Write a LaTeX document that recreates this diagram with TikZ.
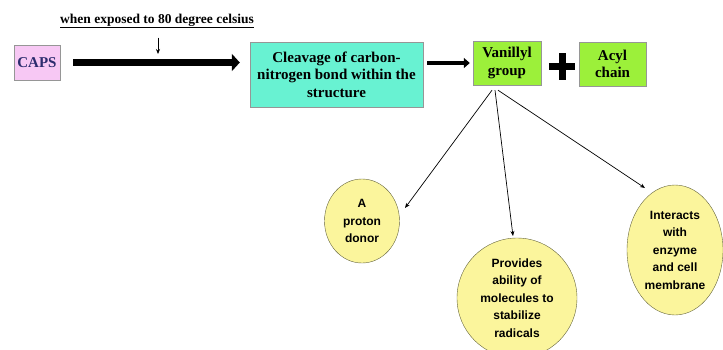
\documentclass[tikz,border=0pt]{standalone}
\usepackage{fontspec}
\setmainfont{Liberation Serif}
\newfontfamily\circfont{Liberation Sans}
\usepackage{tikz}
\usetikzlibrary{arrows.meta,positioning,calc,shapes.geometric}
\usepackage{xcolor}
\definecolor{capsfill}{RGB}{247,200,244}
\definecolor{capstext}{RGB}{44,44,110}
\definecolor{cleavefill}{RGB}{104,242,210}
\definecolor{groupfill}{RGB}{156,240,58}
\definecolor{effectfill}{RGB}{251,245,156}
\definecolor{boxline}{RGB}{150,150,150}
\definecolor{effectline}{RGB}{100,100,60}
\tikzset{
  stagebox/.style={draw=boxline, fill=#1, align=center, font=\fontsize{15}{17.5}\selectfont\bfseries, inner sep=3pt},
  effect/.style={ellipse, draw=effectline, fill=effectfill, align=center, inner sep=0pt, font=\circfont\fontsize{12}{17.5}\selectfont\bfseries},
  bigflow/.style={-{Triangle[length=8pt,width=17pt]}, line width=7pt},
  midflow/.style={-{Triangle[length=6pt,width=10pt]}, line width=4.5pt},
  thinflow/.style={-{Stealth[length=5pt,width=4pt]}, line width=0.7pt},
}
\begin{document}
\begin{tikzpicture}[x=1pt,y=1pt]
  \useasboundingbox (0,0) rectangle (723,-349);
  \clip (0,0) rectangle (723,-349);
  % stages
  \node[stagebox=capsfill, text=capstext, minimum width=46pt, minimum height=35pt] (caps) at (37,-62.5) {CAPS};
  \node[stagebox=cleavefill, minimum width=173pt, minimum height=65pt] (cleave) at (336.5,-74.5) {Cleavage of carbon-\\nitrogen bond within the\\structure};
  \node[stagebox=groupfill, minimum width=68pt, minimum height=44pt] (vanillyl) at (507,-63) {Vanillyl\\group};
  \node[stagebox=groupfill, minimum width=67pt, minimum height=44pt] (acyl) at (612.5,-64) {Acyl\\chain};
  \node[minimum size=26pt, inner sep=0pt] (plus) at (562,-66.5) {};
  \draw[line width=7pt] (plus.west) -- (plus.east);
  \draw[line width=7pt] (plus.north) -- (plus.south);
  % condition
  \node[font=\fontsize{13.5}{16}\selectfont\bfseries] (heat) at (157,-21) {\underline{when exposed to 80 degree celsius}};
  \coordinate (hit) at (158,-54);
  \draw[thinflow] ([xshift=1pt,yshift=-6pt]heat.south) -- (hit);
  \draw[bigflow, shorten <=13pt, shorten >=10pt] (caps) -- (caps -| cleave.west);
  \draw[midflow, shorten <=4pt, shorten >=3pt] (cleave.east |- vanillyl) -- (vanillyl.west);
  % effects of the vanillyl group
  \node[effect, minimum width=75pt, minimum height=84pt] (proton) at (362,-221) {A\\proton\\donor};
  \node[effect, minimum width=120pt, minimum height=120pt] (radical) at (517,-298) {Provides\\ability of\\molecules to\\stabilize\\radicals};
  \node[effect, minimum width=96pt, minimum height=130pt] (membrane) at (675,-250) {Interacts\\with\\enzyme\\and cell\\membrane};
  \coordinate (vfoot) at ([xshift=-12pt,yshift=-5pt]vanillyl.south);
  \coordinate (protontip) at (405,-208);
  \coordinate (radicaltip) at (513,-236);
  \coordinate (membranetip) at (645,-188);
  \draw[thinflow] ([xshift=-3pt]vfoot) -- (protontip);
  \draw[thinflow] (vfoot) -- (radicaltip);
  \draw[thinflow] ([xshift=3pt]vfoot) -- (membranetip);
\end{tikzpicture}
\end{document}
